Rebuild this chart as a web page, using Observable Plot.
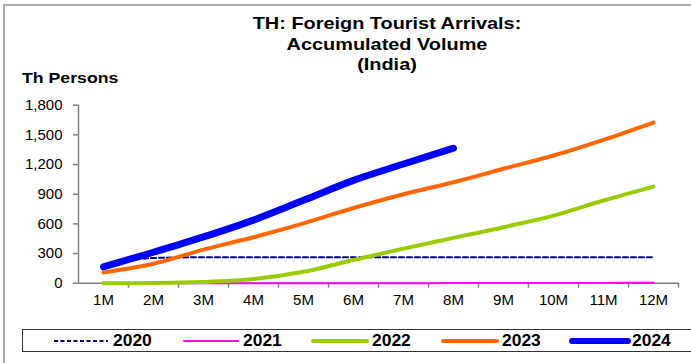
<!DOCTYPE html>
<html>
<head>
<meta charset="utf-8">
<script src="https://cdn.jsdelivr.net/npm/d3@7"></script>
<script src="https://cdn.jsdelivr.net/npm/@observablehq/plot@0.6"></script>
<style>
  body { margin: 0; background: #fff; font-family: "Liberation Sans", Arial, sans-serif; }
  #wrap { position: relative; width: 691px; height: 363px; overflow: hidden; background: #fff; }
  #frameTop { position: absolute; left: 3px; top: 4px; width: 688px; height: 2px; background: #aaa; }
  #frameLeft { position: absolute; left: 3px; top: 4px; width: 2px; height: 359px; background: #aaa; }
  #title { position: absolute; left: 187px; width: 400px; top: 14px; text-align: center; font-weight: bold; font-size: 17px; line-height: 20.5px; color: #000; transform: scaleX(1.17); transform-origin: 200px 0; }
  #ylab { position: absolute; left: 22px; top: 69px; font-weight: bold; font-size: 15px; color: #000; transform: scaleX(1.18); transform-origin: 0 0; }
  #legend { position: absolute; left: 22px; top: 329px; width: 680px; height: 23px; border: 1px solid #333; box-sizing: border-box; }
  .li { position: absolute; top: 0; height: 22px; }
  .li svg { position: absolute; top: 0; }
  .li span { position: absolute; top: 2px; font-weight: bold; font-size: 16px; color: #000; transform: scaleX(1.09); transform-origin: 0 0; }
  #chart { position: absolute; left: 0; top: 0; }
</style>
</head>
<body>
<div id="wrap">
  <div id="frameTop"></div>
  <div id="frameLeft"></div>
  <div id="chart"></div>
  <div id="title">TH: Foreign Tourist Arrivals:<br>Accumulated Volume<br>(India)</div>
  <div id="ylab">Th Persons</div>
  <div id="legend"></div>
</div>
<script>
const months = ["1M","2M","3M","4M","5M","6M","7M","8M","9M","10M","11M","12M"];
const years = ["2020","2021","2022","2023","2024"];
const yTicks = [0, 300, 600, 900, 1200, 1500, 1800];

const v2020 = [185, 255, 262, 262, 262, 262, 262, 262, 262, 262, 262, 262];
const v2021 = [0, 0, 0, 0, 0, 0, 0, 1, 1, 2, 3, 5];
const v2022 = [0, 2, 12, 42, 115, 235, 350, 458, 566, 684, 836, 977];
const v2023 = [108, 196, 340, 465, 605, 760, 900, 1021, 1157, 1291, 1450, 1625];
const v2024 = [165, 313, 468, 638, 838, 1040, 1205, 1365];

const seriesValues = { "2020": v2020, "2021": v2021, "2022": v2022, "2023": v2023, "2024": v2024 };
const colors = { "2020": "#000080", "2021": "#ff00ff", "2022": "#99cc00", "2023": "#ff6600", "2024": "#0000ff" };
const widths = { "2020": 2, "2021": 2, "2022": 4, "2023": 4, "2024": 7 };
const dashes = { "2020": "5,3", "2021": null, "2022": null, "2023": null, "2024": null };

const rows = [];
for (const y of years) seriesValues[y].forEach((v, i) => rows.push({ year: y, m: i + 1, v }));

const centers = months.map((_, i) => i + 1);
const bounds = months.map((_, i) => i + 1.5);

const lineMarks = years.map(y => Plot.line(rows.filter(r => r.year === y), {
  x: "m", y: "v", stroke: colors[y], strokeWidth: widths[y],
  strokeDasharray: dashes[y] || undefined, strokeLinecap: "round", strokeLinejoin: "round", curve: "monotone-x"
}));

const chart = Plot.plot({
  width: 691, height: 363,
  marginLeft: 78, marginRight: 13, marginTop: 104.7, marginBottom: 80.3,
  style: { fontFamily: "Liberation Sans, Arial, sans-serif", background: "transparent", overflow: "visible" },
  x: { type: "linear", domain: [0.5, 12.5], axis: null },
  y: { domain: [0, 1800], axis: null },
  marks: [
    Plot.axisY({ ticks: yTicks, tickFormat: d3.format(","), label: null, tickSize: 5, tickPadding: 11, stroke: "#808080", strokeWidth: 1.5, fontSize: 15, color: "#000" }),
    Plot.axisX({ ticks: bounds, tickFormat: () => "", label: null, tickSize: 5, stroke: "#808080", strokeWidth: 1.5 }),
    Plot.axisX({ ticks: centers, tickFormat: d => months[d - 1], label: null, tickSize: 0, tickPadding: 11, fontSize: 15, color: "#000" }),
    Plot.ruleX([0.5], { stroke: "#808080", strokeWidth: 1.5 }),
    Plot.ruleY([0], { stroke: "#808080", strokeWidth: 1.5 }),
    ...lineMarks
  ]
});
document.getElementById("chart").appendChild(chart);

// legend
const legendPos = { "2020": 28, "2021": 158, "2022": 287, "2023": 417, "2024": 546 };
const legend = document.getElementById("legend");
for (const y of years) {
  const item = document.createElement("div");
  item.className = "li";
  item.style.left = legendPos[y] + "px";
  const lw = widths[y] === 7 ? 6 : widths[y];
  const dash = dashes[y] ? `stroke-dasharray="4,2.5"` : "";
  item.innerHTML = `<svg width="64" height="22"><line x1="3" x2="${y === "2024" ? 59 : 57}" y1="11" y2="11" stroke="${colors[y]}" stroke-width="${y === "2020" ? 1.8 : lw}" ${dash} stroke-linecap="${dashes[y] ? "butt" : "round"}"/></svg><span style="left:${y === "2024" ? 63 : 62}px">${y}</span>`;
  legend.appendChild(item);
}
</script>
</body>
</html>
